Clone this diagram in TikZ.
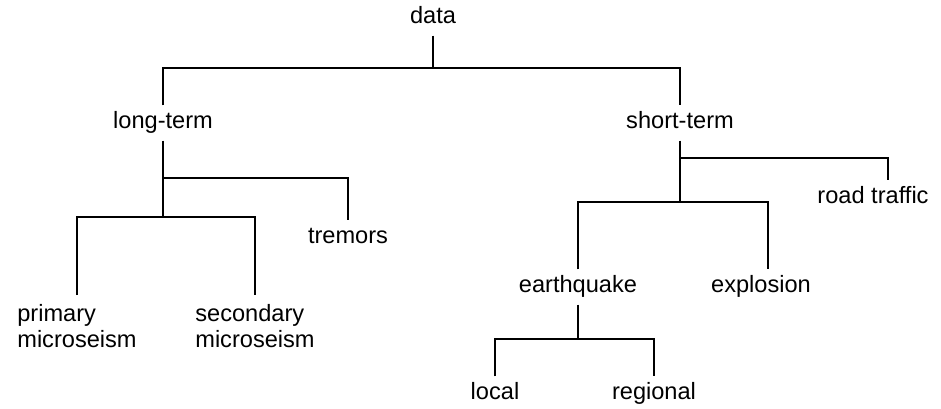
\documentclass[tikz,border=0pt]{standalone}
\usepackage{fontspec}
\setmainfont{Liberation Sans}
\usetikzlibrary{positioning}

\begin{document}
\begin{tikzpicture}[
		x=0.5pt, y=-0.5pt,
		lbl/.style={
			inner xsep=0pt,
			inner ysep=3.8pt,
			text height=0.75em,
			text depth=0.22em,
			font=\fontsize{11.8}{13}\selectfont
		},
		twoline/.style={
			inner xsep=0pt,
			inner ysep=4.6pt,
			align=left,
			anchor=north,
			font=\fontsize{11.8}{13}\selectfont
		},
		branch/.style={
			line width=1.25pt
		}
		]
		\useasboundingbox (0,0) rectangle (941,408);
		
		\node[lbl] at (433,18) 
		(data) {data};
		
		\node[lbl] at (163,123) 
		(long) {long-term};
		\node[lbl] at (680,123) 
		(short) {short-term};
		
		\node[lbl] at (348,238) 
		(tremors) {tremors};
		\node[twoline] at (77,295) 
		(primary) {primary\\microseism};
		\node[twoline] at (255,295) 
		(secondary) {secondary\\microseism};
		
		\node[lbl] at (873,198) 
		(road) {road traffic};
		\node[lbl] at (578,287) 
		(quake) {earthquake};
		\node[lbl] at (761,287) 
		(explosion) {explosion};
		
		\node[lbl] at (495,394) 
		(local) {local};
		\node[lbl] at (654,394) 
		(regional) {regional};
		
		\coordinate (jdata) at (433,68);
		\coordinate (jlong1) at (163,178);
		\coordinate (jlong2) at (163,217);
		\coordinate (jshort1) at (680,158);
		\coordinate (jshort2) at (680,202);
		\coordinate (jquake) at (578,339);
		
		\draw[branch] (data) -- (jdata);
		\draw[branch] (long) |- (jdata) -| (short);
		
		\draw[branch] (long) -- (jlong2);
		\draw[branch] (jlong1) -| (tremors);
		\draw[branch] (primary) |- (jlong2) -| (secondary);
		
		\draw[branch] (short) -- (jshort2);
		\draw[branch] (jshort1) -| ([xshift=7.5pt]road.north);
		\draw[branch] (quake) |- (jshort2) -| ([xshift=3.5pt]explosion.north);
		
		\draw[branch] (quake) -- (jquake);
		\draw[branch] (local) |- (jquake) -| (regional);
		
\end{tikzpicture}
\end{document}
